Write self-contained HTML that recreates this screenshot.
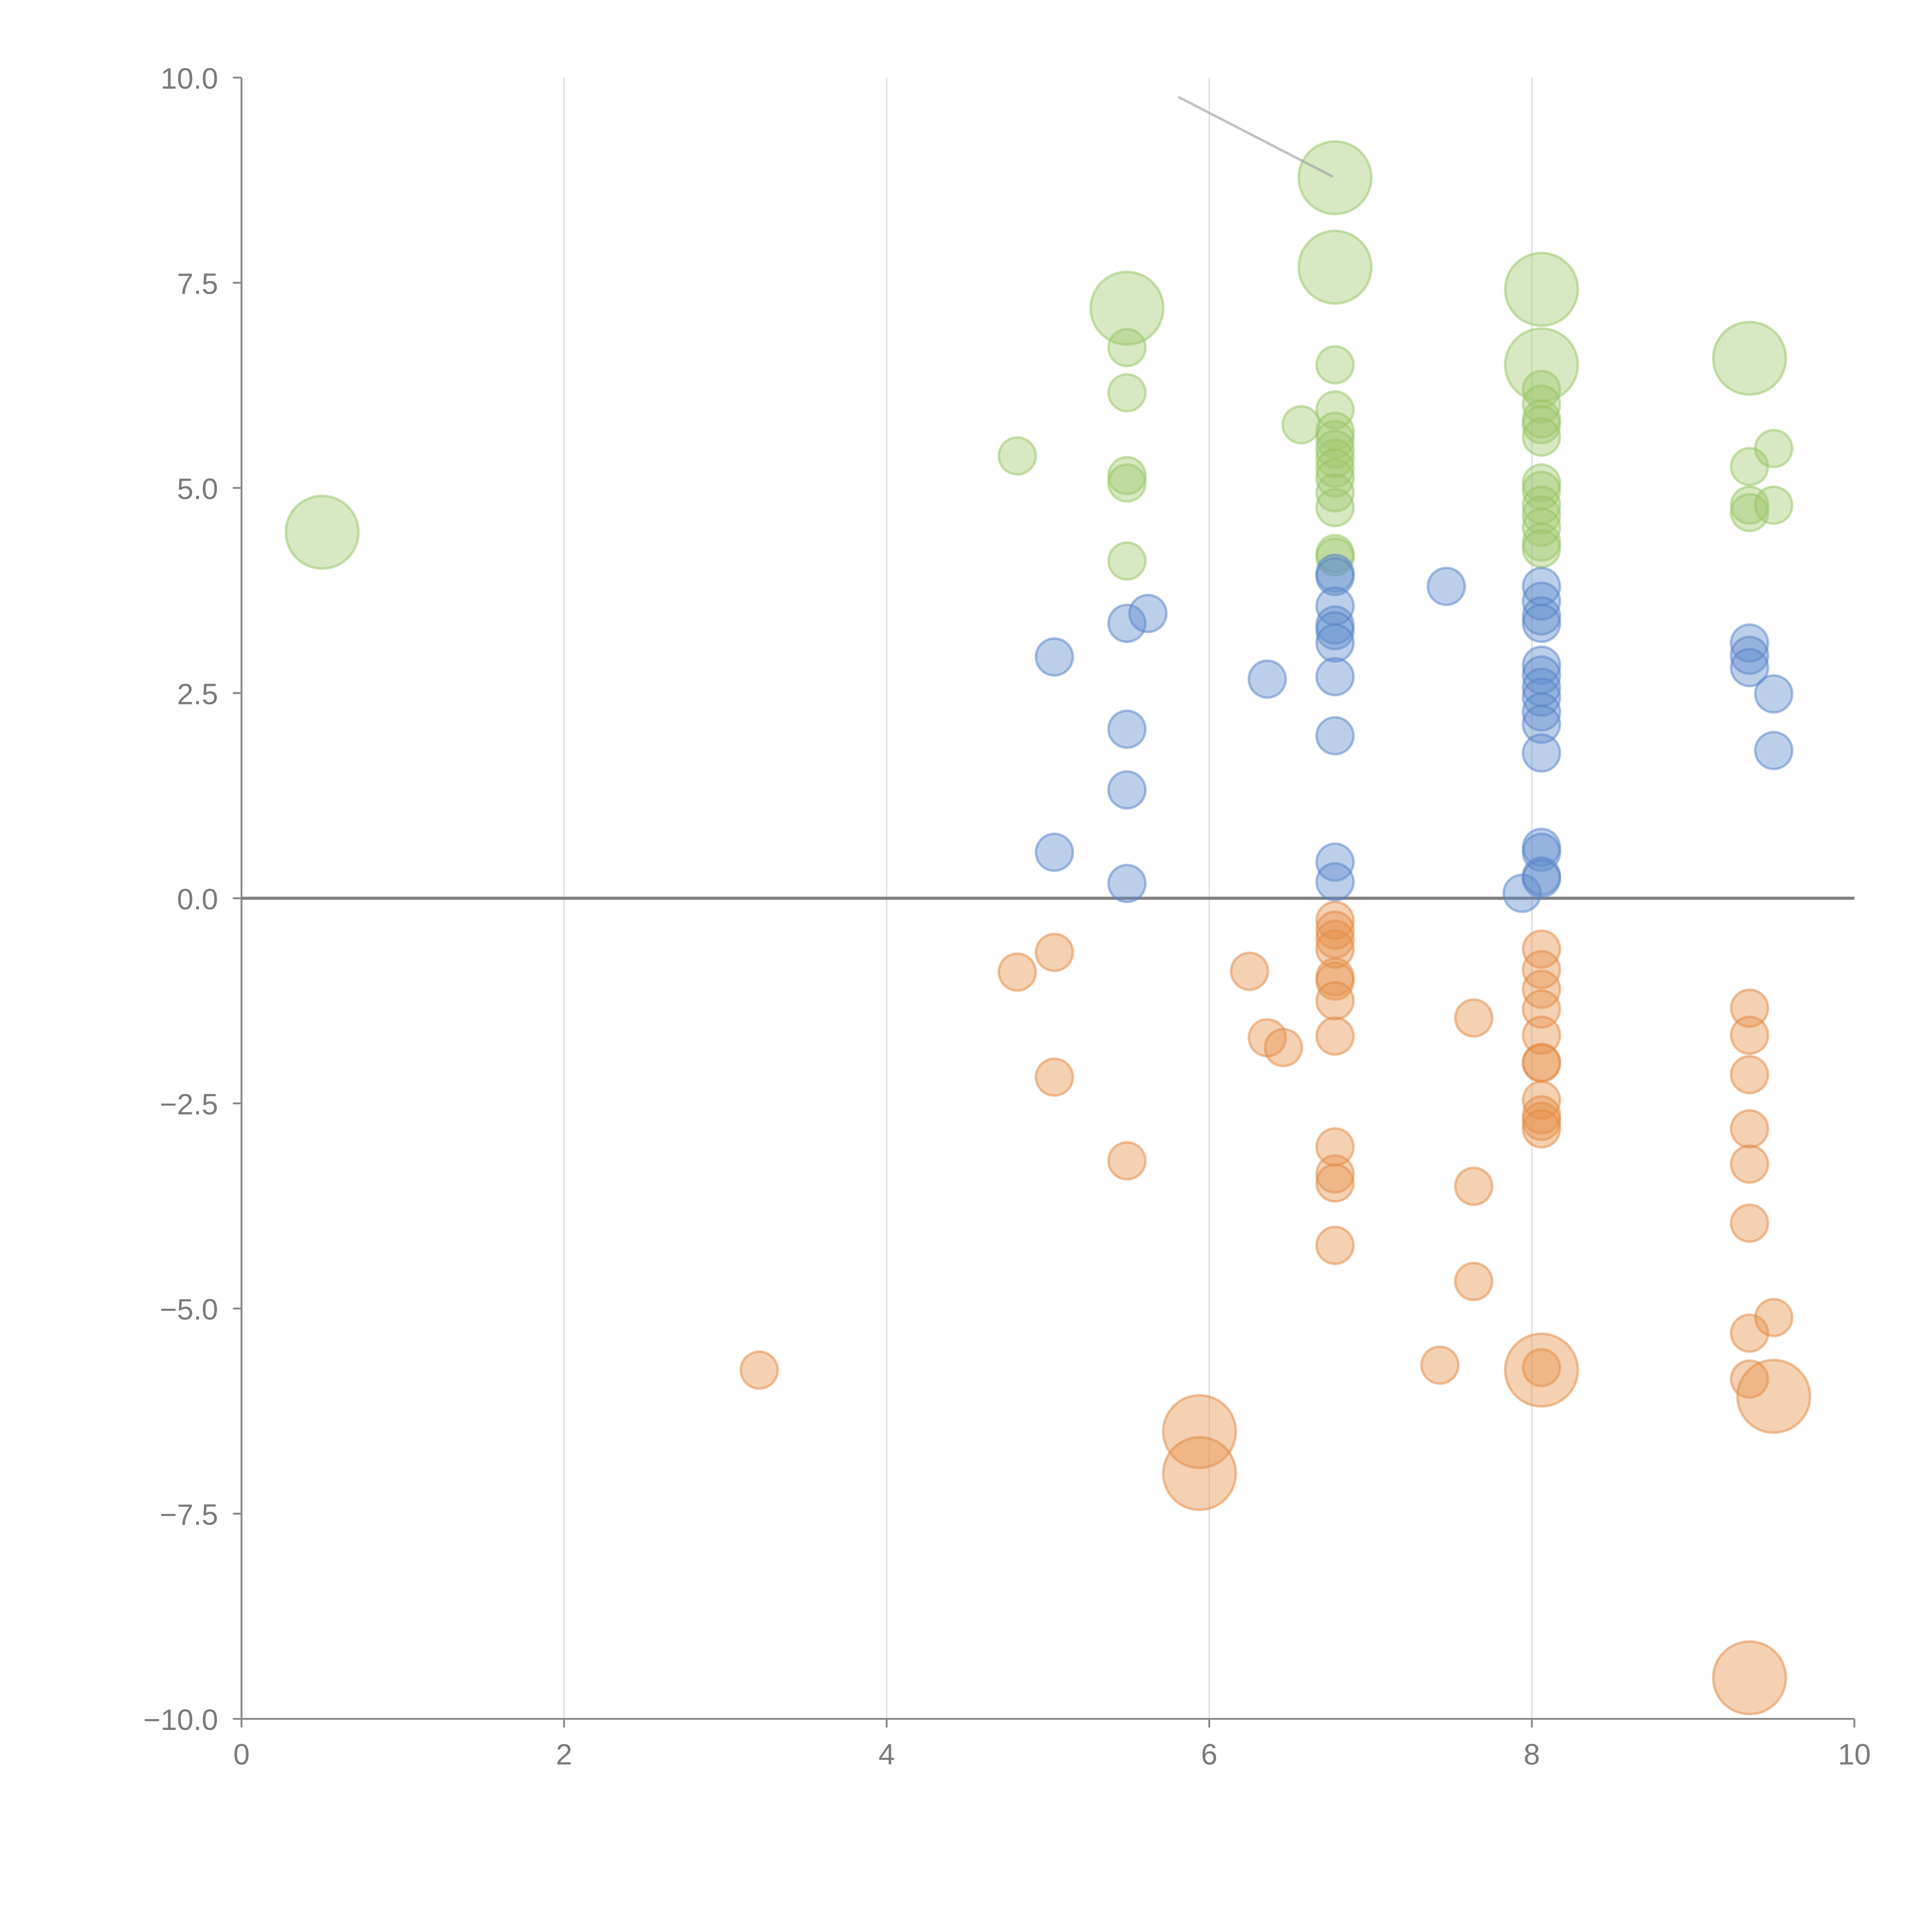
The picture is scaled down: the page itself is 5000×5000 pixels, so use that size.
<!DOCTYPE html>
<html><head><meta charset="utf-8"><style>
html,body{margin:0;padding:0;background:#fff;}
svg{display:block;}
text{font-family:"Liberation Sans",sans-serif;fill:#7a7a7a;font-size:24px;}
</style></head><body>
<svg id="chart" width="5000" height="5000" viewBox="0 0 1568 1568" xmlns="http://www.w3.org/2000/svg">
<g id="grid"></g>
<g id="axes"></g>
<g id="marks"></g>
<line x1="957" y1="79" x2="1081" y2="143" stroke="#999" stroke-opacity="0.6" stroke-width="2" stroke-linecap="round"/>
</svg>
<script>
const xTicks=[0,2,4,6,8,10];
const xTickLabels=["0","2","4","6","8","10"];
const yTicks=[10,7.5,5,2.5,0,-2.5,-5,-7.5,-10];
const yTickLabels=["10.0","7.5","5.0","2.5","0.0","\u22122.5","\u22125.0","\u22127.5","\u221210.0"];

const greenX=[0.50,4.81,5.49,5.49,5.49,5.49,5.49,5.49,6.57,6.78,6.78,6.78,6.78,6.78,6.78,6.78,6.78,6.78,6.78,6.78,6.78,6.78,6.78,8.06,8.06,8.06,8.06,8.06,8.06,8.06,8.06,8.06,8.06,8.06,8.06,8.06,8.06,9.35,9.35,9.50,9.35,9.35,9.50];
const greenY=[4.46,5.39,7.19,6.71,6.16,5.15,5.06,4.11,5.77,8.78,7.69,6.50,5.95,5.69,5.59,5.47,5.36,5.24,5.12,4.94,4.76,4.20,4.16,7.42,6.50,6.20,6.02,5.84,5.77,5.62,5.06,4.97,4.79,4.67,4.52,4.34,4.26,6.58,5.26,5.48,4.79,4.70,4.79];
const greenSize=[2,1,2,1,1,1,1,1,1,2,2,1,1,1,1,1,1,1,1,1,1,1,1,2,2,1,1,1,1,1,1,1,1,1,1,1,1,2,1,1,1,1,1];

const blueX=[5.04,5.04,5.49,5.62,5.49,5.49,5.49,6.36,6.78,6.78,6.78,6.78,6.78,6.78,6.78,6.78,6.78,6.78,7.47,7.94,8.06,8.06,8.06,8.06,8.06,8.06,8.06,8.06,8.06,8.06,8.06,8.06,8.06,8.06,8.06,9.35,9.35,9.35,9.50,9.50];
const blueY=[2.94,0.56,3.35,3.47,2.06,1.32,0.18,2.67,3.96,3.92,3.56,3.33,3.26,3.11,2.70,1.98,0.44,0.20,3.80,0.06,3.80,3.62,3.44,3.35,2.84,2.72,2.57,2.45,2.27,2.12,1.77,0.62,0.56,0.27,0.24,3.11,2.96,2.81,2.49,1.80];
const blueSize=[1,1,1,1,1,1,1,1,1,1,1,1,1,1,1,1,1,1,1,1,1,1,1,1,1,1,1,1,1,1,1,1,1,1,1,1,1,1,1,1];

const orangeX=[3.21,4.81,5.04,5.04,5.49,5.94,5.94,6.25,6.36,6.46,6.78,6.78,6.78,6.78,6.78,6.78,6.78,6.78,6.78,6.78,6.78,6.78,7.43,7.64,7.64,7.64,8.06,8.06,8.06,8.06,8.06,8.06,8.06,8.06,8.06,8.06,8.06,8.06,8.06,9.35,9.35,9.35,9.35,9.35,9.35,9.35,9.35,9.50,9.50,9.35];
const orangeY=[-5.75,-0.90,-0.66,-2.18,-3.20,-6.50,-7.01,-0.89,-1.70,-1.82,-0.27,-0.39,-0.50,-0.62,-0.96,-1.01,-1.25,-1.68,-3.03,-3.36,-3.47,-4.23,-5.69,-1.46,-3.51,-4.67,-0.62,-0.87,-1.11,-1.35,-1.67,-2.00,-2.01,-2.46,-2.64,-2.72,-2.81,-5.72,-5.75,-1.34,-1.67,-2.15,-2.81,-3.24,-3.96,-5.30,-5.86,-5.11,-6.07,-9.50];
const orangeSize=[1,1,1,1,1,2,2,1,1,1,1,1,1,1,1,1,1,1,1,1,1,1,1,1,1,1,1,1,1,1,1,1,1,1,1,1,1,1,2,1,1,1,1,1,1,1,1,1,2,2];

const X0=196,X1=1505,Y0=1395,Y1=63;
function sx(v){return X0+(v-0)/(10-0)*(X1-X0);}
function sy(v){return Y0-(v+10)/20*(Y0-Y1);}
function sr(s){return s===2?29.5:15;}
const NS="http://www.w3.org/2000/svg";
function mk(tag,attrs,parent){const e=document.createElementNS(NS,tag);for(const k in attrs)e.setAttribute(k,attrs[k]);parent.appendChild(e);return e;}
const grid=document.getElementById('grid'),axes=document.getElementById('axes'),marks=document.getElementById('marks');

xTicks.forEach((t,i)=>{
  if(t>0&&t<10){const g=mk('line',{x1:sx(t),x2:sx(t),y1:Y1,y2:Y0,stroke:'#dcdcdc','stroke-width':1},grid);
    
    }
  const tk=mk('line',{x1:sx(t),x2:sx(t),y1:Y0,y2:Y0+7,stroke:'#888','stroke-width':1.5},axes);
  
  
  const lb=mk('text',{x:sx(t),y:Y0+37,'text-anchor':'middle'},axes);lb.textContent=xTickLabels[i];
  
  
});
yTicks.forEach((t,i)=>{
  const tk=mk('line',{x1:X0-7,x2:X0,y1:sy(t),y2:sy(t),stroke:'#888','stroke-width':1.5},axes);
  
  
  const lb=mk('text',{x:X0-19,y:sy(t)+9,'text-anchor':'end'},axes);lb.textContent=yTickLabels[i];
  
  
});
const ya=mk('line',{x1:X0,x2:X0,y1:Y1,y2:Y0,stroke:'#888','stroke-width':1.5},axes);


const xa=mk('line',{x1:X0,x2:X1,y1:Y0,y2:Y0,stroke:'#888','stroke-width':1.5},axes);


const zl=mk('line',{x1:X0,x2:X1,y1:sy(0),y2:sy(0),stroke:'#808080','stroke-width':2.5},axes);



function series(xs,ys,ss,fill,stroke,name){
  xs.forEach((x,i)=>{
    const c=mk('circle',{cx:sx(x),cy:sy(ys[i]),r:sr(ss[i]),fill:fill,stroke:stroke,'stroke-width':2},marks);
    
    
  });
}
series(greenX,greenY,greenSize,'rgba(160,200,110,0.42)','rgba(150,195,100,0.5)','green-bubble');
series(blueX,blueY,blueSize,'rgba(95,140,205,0.42)','rgba(85,130,200,0.5)','blue-bubble');
series(orangeX,orangeY,orangeSize,'rgba(232,145,75,0.42)','rgba(225,135,65,0.5)','orange-bubble');
</script>
</body></html>
